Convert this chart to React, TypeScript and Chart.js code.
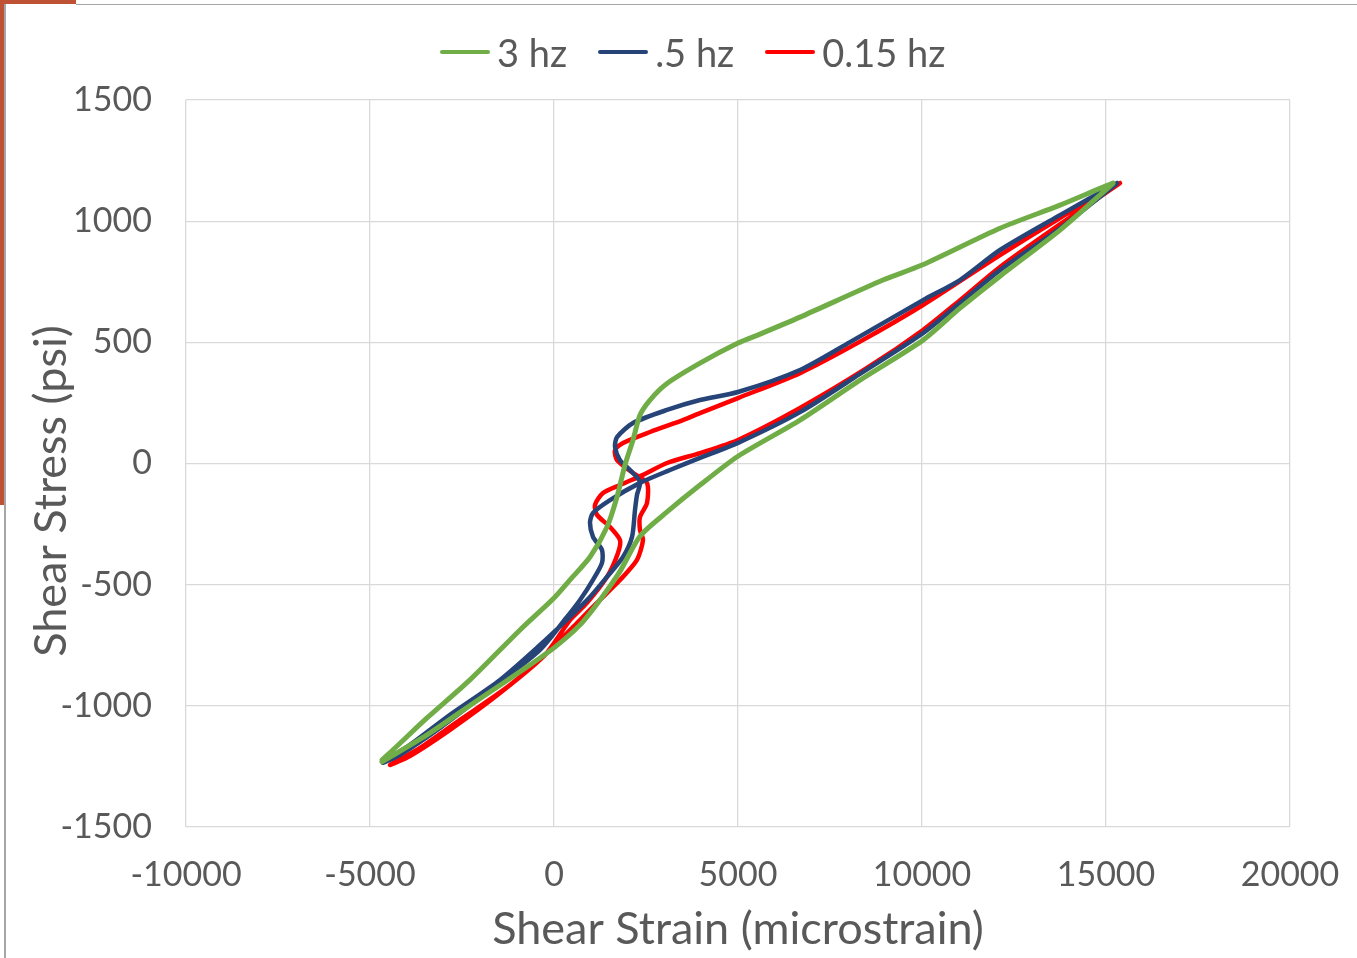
import React, { useEffect, useRef } from "react";
import { Chart, registerables } from "chart.js";

Chart.register(...registerables);

// Shear strain (microstrain) / shear stress (psi)
const greenX = [-4674, -3451, -2065, -652, 0, 707, 1250, 1793, 2337, 3071, 3967, 5000, 6685, 8315, 10027, 11033, 12120, 13750, 15109, 15190, 13750, 12120, 10000, 8940, 6685, 5598, 5000, 3967, 3071, 2609, 2337, 2147, 1929, 1712, 1440, 978, 435, 0, -924, -2283, -3451, -4321, -4674];
const greenY = [-1231, -1120, -976, -831, -761, -666, -563, -445, -300, -200, -89, 30, 179, 344, 509, 641, 773, 963, 1145, 1157, 1066, 971, 819, 757, 604, 534, 497, 414, 330, 262, 200, 97, -6, -138, -262, -386, -480, -555, -687, -893, -1050, -1174, -1223];

const blueX = [15299, 13750, 12120, 11033, 10027, 8043, 6685, 5000, 3967, 3071, 2147, 1712, 1658, 1793, 2065, 2337, 2255, 2201, 2120, 1875, 1440, 978, 435, -380, -1467, -2826, -3913, -4647, -4185, -3098, -1739, -380, 353, 707, 1060, 1304, 1304, 1060, 978, 1060, 1522, 2337, 3152, 3967, 5000, 6685, 8315, 10027, 11033, 12120, 13750, 15299];
const blueY = [1157, 1025, 881, 757, 674, 501, 386, 295, 262, 221, 167, 109, 68, 14, -27, -76, -130, -192, -303, -386, -468, -551, -633, -749, -893, -1037, -1161, -1235, -1202, -1091, -934, -769, -633, -563, -480, -410, -357, -303, -245, -204, -151, -80, -27, 23, 85, 212, 370, 538, 662, 798, 971, 1157];

const redX = [15380, 13750, 12120, 10027, 8315, 6685, 5000, 3967, 3505, 2609, 1875, 1658, 1712, 2147, 2527, 2527, 2337, 2337, 2418, 2255, 1793, 1168, 707, -109, -1196, -2554, -3641, -4456, -3913, -2826, -1467, -245, 435, 897, 1440, 1739, 1793, 1522, 1168, 1114, 1331, 1793, 2418, 3071, 3967, 5000, 6685, 8505, 10027, 11033, 12120, 13750, 15380];
const redY = [1157, 1013, 860, 654, 503, 373, 270, 208, 179, 130, 85, 56, 14, -39, -80, -163, -221, -274, -316, -398, -481, -575, -646, -769, -914, -1058, -1174, -1244, -1207, -1099, -947, -790, -646, -575, -468, -369, -316, -262, -212, -171, -122, -89, -47, 2, 43, 97, 229, 394, 551, 674, 811, 987, 1157];

const seriesNames = ["3 hz", ".5 hz", "0.15 hz"];
const seriesColors = ["#70ad47", "#264478", "#ff0000"];
const seriesWidths = [5, 4.5, 4.5];

const xTitle = "Shear Strain (microstrain)";
const yTitle = "Shear Stress (psi)";

const FONT = "Lato, 'Open Sans', sans-serif";
const TEXT = "#595959";

function pts(xs: number[], ys: number[]) {
  return xs.map((x, i) => ({ x, y: ys[i] }));
}

export default function App() {
  const ref = useRef<HTMLCanvasElement | null>(null);
  useEffect(() => {
    document.body.style.margin = "0";
    const canvas = ref.current!;
    const yTitlePlugin = {
      id: "yTitle",
      afterDraw(chart: any) {
        const ctx = chart.ctx;
        ctx.save();
        ctx.translate(51, 491);
        ctx.rotate(-Math.PI / 2);
        ctx.fillStyle = TEXT;
        ctx.font = `45px ${FONT}`;
        ctx.textAlign = "center";
        ctx.textBaseline = "middle";
        ctx.fillText(yTitle, 0, 0);
        ctx.restore();
      },
    };
    const datas = [pts(greenX, greenY), pts(blueX, blueY), pts(redX, redY)];
    const chart = new Chart(canvas, {
      type: "scatter",
      data: {
        datasets: datas.map((d, i) => ({
          label: seriesNames[i],
          data: d,
          showLine: true,
          borderColor: seriesColors[i],
          backgroundColor: seriesColors[i],
          borderWidth: seriesWidths[i],
          pointRadius: 0,
          tension: 0.25,
          borderJoinStyle: "round" as const,
          borderCapStyle: "round" as const,
        })),
      },
      options: {
        animation: false,
        responsive: false,
        layout: { padding: { left: 0, right: 0, top: 100, bottom: 0 } },
        plugins: { legend: { display: false }, tooltip: { enabled: false } },
        scales: {
          x: {
            type: "linear",
            min: -10000,
            max: 20000,
            afterFit: (s: any) => { s.height = 131; s.paddingRight = 67; s.paddingLeft = 0; },
            ticks: { stepSize: 5000, color: TEXT, font: { family: FONT, size: 34 }, padding: 28, maxRotation: 0, callback: (v: any) => String(v) },
            grid: { color: "#d9d9d9", lineWidth: 1.3, drawTicks: false },
            border: { display: false },
            title: { display: true, text: xTitle, color: TEXT, font: { family: FONT, size: 45 }, padding: { top: 0, bottom: 2 } },
          },
          y: {
            type: "linear",
            min: -1500,
            max: 1500,
            afterFit: (s: any) => { s.width = 186; },
            ticks: { stepSize: 500, color: TEXT, font: { family: FONT, size: 34 }, padding: 34, callback: (v: any) => String(v) },
            grid: { color: "#d9d9d9", lineWidth: 1.3, drawTicks: false },
            border: { display: false },
          },
        },
      },
      plugins: [yTitlePlugin],
    } as any);
    return () => chart.destroy();
  }, []);

  const legendItem = (i: number) => (
    <div key={i} style={{ display: "flex", alignItems: "center", marginRight: i < 2 ? 31 : 0 }}>
      <div style={{ width: 50, height: 4, borderRadius: 2, background: seriesColors[i], marginRight: 7 }} />
      <span style={{ fontFamily: FONT, fontSize: 38, color: TEXT }}>{seriesNames[i]}</span>
    </div>
  );

  return (
    <div style={{ position: "relative", width: 1357, height: 958, background: "#fff", overflow: "hidden" }}>
      <canvas ref={ref} width={1357} height={958} style={{ position: "absolute", left: 0, top: 0 }} />
      <div style={{ position: "absolute", left: 440, top: 29, height: 46, display: "flex", alignItems: "center" }}>
        {[0, 1, 2].map(legendItem)}
      </div>
      <div style={{ position: "absolute", left: 0, top: 0, width: 76, height: 4, background: "#bf5134" }} />
      <div style={{ position: "absolute", left: 0, top: 0, width: 4, height: 505, background: "#bf5134" }} />
      <div style={{ position: "absolute", left: 76, top: 4, width: 1281, height: 1, background: "#a6a6a6" }} />
      <div style={{ position: "absolute", left: 4, top: 4, width: 2, height: 954, background: "#a6a6a6" }} />
    </div>
  );
}
